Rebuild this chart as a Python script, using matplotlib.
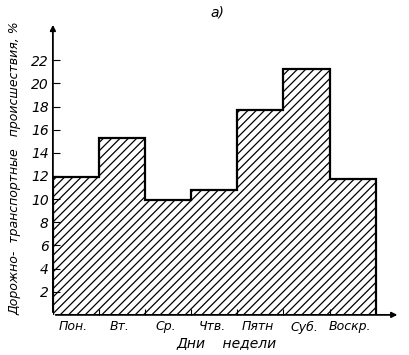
import matplotlib.pyplot as plt
import numpy as np

days = ["Пон.", "Вт.", "Ср.", "Чтв.", "Пятн", "Суб.", "Воскр."]
shares = [11.9, 15.3, 9.9, 10.8, 17.7, 21.2, 11.7]
yticks = [2, 4, 6, 8, 10, 12, 14, 16, 18, 20, 22]

plt.rcParams['font.family'] = ['DejaVu Sans']
plt.rcParams['font.style'] = 'italic'
plt.rcParams['hatch.linewidth'] = 0.9

fig = plt.figure(figsize=(4.10, 3.55), dpi=100)
ax = fig.add_axes([0.129, 0.113, 0.847, 0.825])

edges = np.arange(len(days) + 1)
ax.bar(edges[:-1], shares, width=1, align='edge', facecolor='white',
       edgecolor='black', linewidth=0, hatch='////')
ax.stairs(shares, edges, baseline=0, fill=False, color='black', linewidth=1.6)

ax.set_xlim(0, 7.53)
ax.set_ylim(0, 25.3)

for side in ['top', 'right', 'left', 'bottom']:
    ax.spines[side].set_visible(False)
# axes drawn as arrows
ax.annotate('', xy=(0, 1), xytext=(0, 0), xycoords='axes fraction',
            arrowprops=dict(arrowstyle='-|>', color='black', lw=1.3, mutation_scale=8))
ax.annotate('', xy=(1, 0), xytext=(0, 0), xycoords='axes fraction',
            arrowprops=dict(arrowstyle='-|>', color='black', lw=1.3, mutation_scale=8))

ax.set_yticks(yticks)
ax.set_yticklabels([str(v) for v in yticks], fontsize=10)
ax.tick_params(axis='y', direction='in', length=5, width=0.8, pad=3)

ax.set_xticks(edges[:-1] + 0.45)
ax.set_xticklabels(days, fontsize=9)
ax.tick_params(axis='x', length=0, pad=4)
ax.set_xticks(edges[1:-1], minor=True)
ax.tick_params(axis='x', which='minor', direction='in', length=4, width=0.8)

ax.set_ylabel("Дорожно-  транспортные   происшествия, %", fontsize=9, labelpad=7)
ax.set_xlabel("Дни    недели", fontsize=10, labelpad=2)
fig.text(0.53, 0.965, "а)", fontsize=10, ha='center', va='center')

fig.savefig("out.png", dpi=100)
